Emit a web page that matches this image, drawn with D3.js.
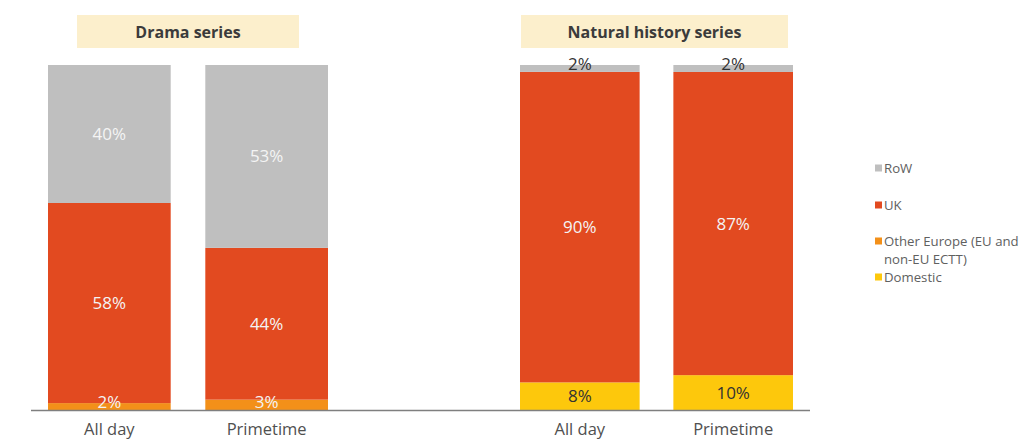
<!DOCTYPE html>
<html>
<head>
<meta charset="utf-8">
<script src="https://cdn.jsdelivr.net/npm/d3@7"></script>
<style>
  html, body { margin: 0; padding: 0; background: #fff; }
  svg { display: block; font-family: "Open Sans", "DejaVu Sans", sans-serif; }
</style>
</head>
<body>
<svg id="chart" width="1034" height="439"></svg>
<script>
// Share of hours by origin, 100% stacked per slot
const slots = ["All day", "Primetime"];
const seriesKeys = ["Domestic", "Other Europe", "UK", "RoW"];
const legendLabels = ["RoW", "UK", "Other Europe (EU and|non-EU ECTT)", "Domestic"];

const dramaTitle = "Drama series";
const dramaDomestic = [0, 0];
const dramaOtherEurope = [2, 3];
const dramaUK = [58, 44];
const dramaRoW = [40, 53];

const natTitle = "Natural history series";
const natDomestic = [8, 10];
const natOtherEurope = [0, 0];
const natUK = [90, 87];
const natRoW = [2, 2];

const colors = {
  "RoW": "#bfbfbf",
  "UK": "#e24a20",
  "Other Europe": "#f39019",
  "Domestic": "#fdc80c"
};

const svg = d3.select("#chart");
const baseY = 410, topY = 65;
const y = d3.scaleLinear().domain([0, 1]).range([baseY, topY]);

function rows(dom, oe, uk, row) {
  return slots.map((s, i) => ({
    slot: s, "Domestic": dom[i], "Other Europe": oe[i], "UK": uk[i], "RoW": row[i]
  }));
}

const stack = d3.stack().keys(seriesKeys).offset(d3.stackOffsetExpand);

function panel(title, data, range, titleBox, darkLabels) {
  const x = d3.scaleBand().domain(slots).range(range).paddingInner(0.22).paddingOuter(0);
  const g = svg.append("g");

  // title badge
  g.append("rect")
    .attr("x", titleBox[0]).attr("y", 15)
    .attr("width", titleBox[1] - titleBox[0]).attr("height", 33)
    .attr("fill", "#fcefcc");
  g.append("text")
    .attr("x", (titleBox[0] + titleBox[1]) / 2).attr("y", 32)
    .attr("dy", "0.35em").attr("text-anchor", "middle")
    .attr("font-size", 16).attr("font-weight", 700).attr("fill", "#3b3b3b")
    .text(title);

  const layers = stack(data);
  layers.forEach(layer => {
    const key = layer.key;
    layer.forEach(d => {
      const raw = d.data[key];
      if (!raw) return;
      g.append("rect")
        .attr("x", x(d.data.slot)).attr("width", x.bandwidth())
        .attr("y", y(d[1])).attr("height", y(d[0]) - y(d[1]))
        .attr("fill", colors[key]);
    });
  });
  layers.forEach(layer => {
    const key = layer.key;
    layer.forEach(d => {
      const raw = d.data[key];
      if (!raw) return;
      const h = y(d[0]) - y(d[1]);
      // thin segments: sit the label on the segment's lower edge
      const ty = h < 16 ? y(d[0]) - 2 : (y(d[0]) + y(d[1])) / 2;
      g.append("text")
        .attr("x", x(d.data.slot) + x.bandwidth() / 2)
        .attr("y", ty)
        .attr("dy", h < 16 ? "0" : "0.35em").attr("text-anchor", "middle")
        .attr("font-size", 17)
        .attr("fill", darkLabels.includes(key) ? "#333" : "#f4f4f4")
        .text(raw + "%");
    });
  });

  // slot labels
  g.selectAll("text.slot").data(slots).join("text")
    .attr("class", "slot")
    .attr("x", d => x(d) + x.bandwidth() / 2).attr("y", 435)
    .attr("text-anchor", "middle").attr("font-size", 16.5).attr("fill", "#505050")
    .text(d => d);
}

panel(dramaTitle, rows(dramaDomestic, dramaOtherEurope, dramaUK, dramaRoW), [48, 328], [77, 299], ["Domestic"]);
panel(natTitle, rows(natDomestic, natOtherEurope, natUK, natRoW), [520, 793], [521, 788], ["Domestic", "RoW"]);

// baseline
svg.append("line")
  .attr("x1", 31).attr("x2", 810).attr("y1", baseY + 0.5).attr("y2", baseY + 0.5)
  .attr("stroke", "#7f7f7f").attr("stroke-width", 1.5);

// legend
const legendKeys = ["RoW", "UK", "Other Europe", "Domestic"];
const legendY = [168, 205, 241, 277];
const lg = svg.append("g");
legendKeys.forEach((k, i) => {
  lg.append("rect").attr("x", 875).attr("y", legendY[i] - 3.5).attr("width", 7).attr("height", 7)
    .attr("fill", colors[k]);
  const lines = legendLabels[i].split("|");
  lines.forEach((t, j) => {
    lg.append("text").attr("x", 884).attr("y", legendY[i] + j * 18)
      .attr("dy", "0.35em").attr("font-size", 13.2).attr("fill", "#606060").text(t);
  });
});
</script>
</body>
</html>
